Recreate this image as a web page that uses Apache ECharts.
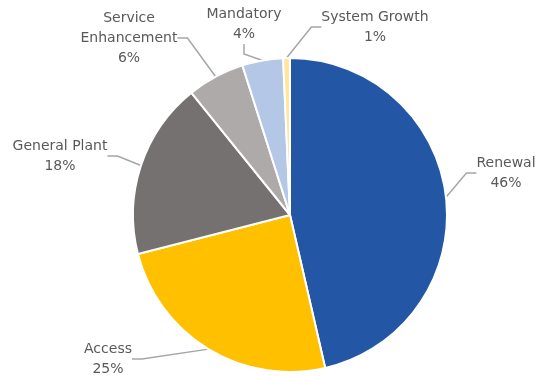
<!DOCTYPE html>
<html><head><meta charset="utf-8">
<script src="https://cdn.jsdelivr.net/npm/echarts@6/dist/echarts.min.js"></script>
<style>html,body{margin:0;padding:0;background:#fff}#c{width:538px;height:376px}</style>
</head><body><div id="c"></div>
<script>
const categories = ['Renewal', 'Access', 'General Plant', 'Service\nEnhancement', 'Mandatory', 'System Growth'];
const values = [46.4, 24.6, 18.2, 5.9, 4.2, 0.7];
const colors = ['#2357A5', '#FFC000', '#767171', '#AEAAAA', '#B4C7E7', '#FFE699'];
// label anchor positions (centre of each label block)
const labelPos = [[506, 173], [108, 359], [60, 156], [129, 38], [244, 24], [375, 27]];

const chart = echarts.init(document.getElementById('c'));
chart.setOption({
  animation: false,
  series: [{
    type: 'pie',
    center: [290, 215],
    radius: 157,
    startAngle: 90,
    clockwise: true,
    percentPrecision: 0,
    data: categories.map((n, i) => ({ name: n, value: values[i], itemStyle: { color: colors[i] } })),
    itemStyle: { borderColor: '#fff', borderWidth: 2 },
    label: {
      formatter: '{b}\n{d}%',
      color: '#595959',
      fontFamily: 'DejaVu Sans',
      fontSize: 14,
      lineHeight: 20,
      align: 'center',
      overflow: 'none'
    },
    labelLine: { length: 14, length2: 10, lineStyle: { color: '#A6A6A6', width: 1.5 } },
    labelLayout: function (p) {
      const pos = labelPos[p.dataIndex];
      return { x: pos[0], y: pos[1], align: 'center', verticalAlign: 'middle' };
    }
  }]
});
</script></body></html>
